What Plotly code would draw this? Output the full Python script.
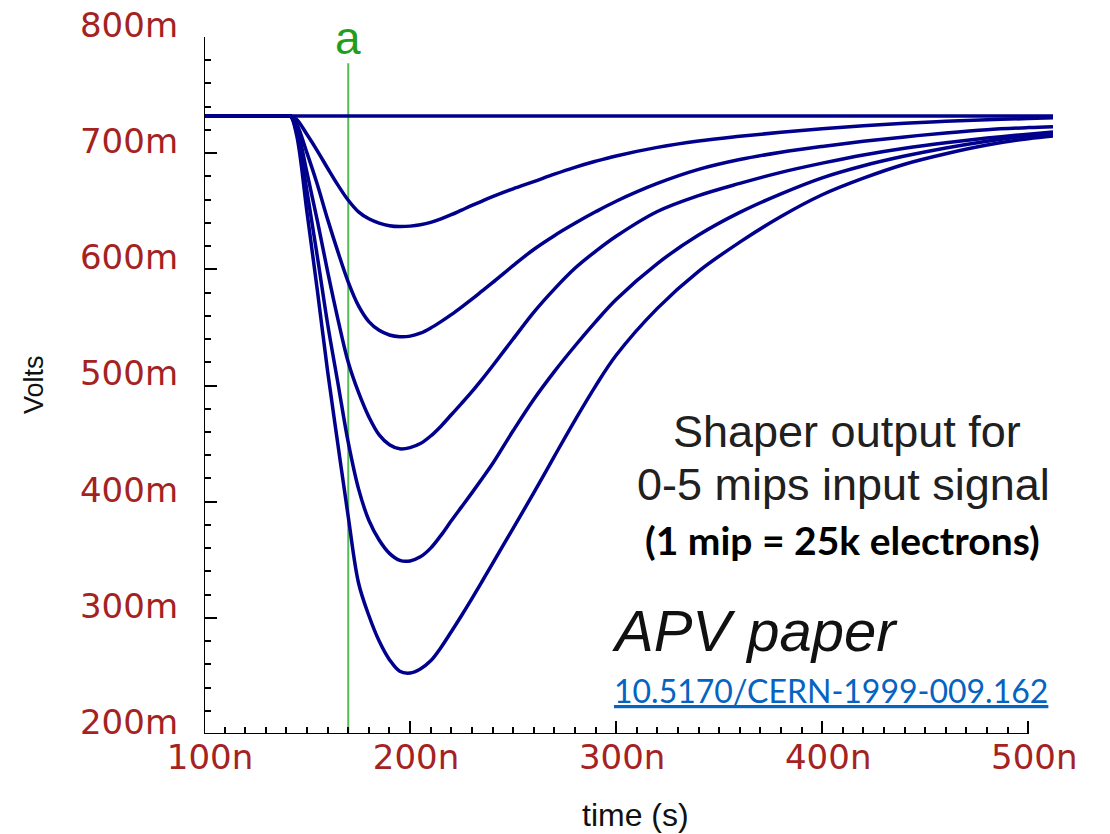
import plotly.graph_objects as go

# ---- data: shaper output (mV) vs time (ns) for 0..5 mip input charge ----
time_ns = [100, 110, 120, 130, 135, 140, 142, 145, 150, 155, 160, 165, 170, 175, 180, 185,
           190, 195, 200, 205, 210, 215, 220, 225, 230, 235, 240, 250, 260, 270, 280,
           290, 300, 320, 340, 360, 380, 400, 420, 440, 460, 480, 500, 512]

mip0_mv = [732, 732, 732, 732, 732, 732, 732, 732, 732, 732, 732, 732, 732, 732, 732, 732,
           732, 732, 732, 732, 732, 732, 732, 732, 732, 732, 732, 732, 732, 732, 732,
           732, 732, 732, 732, 732, 732, 732, 732, 732, 732, 732, 732, 732]
mip1_mv = [732, 732, 732, 732, 732, 732, 732, 729, 716, 702, 687, 672.5, 659.5, 649.5, 643.5,
           639.8, 637.6, 636.8, 637.2, 638.4, 640.4, 643.4, 647, 651, 655, 658.8, 662.5,
           669.3, 675.5, 681.9, 687.8, 693, 697.6, 705, 710.5, 714.5, 718, 721, 723.6,
           725.7, 727.4, 728.8, 729.8, 730.4]
mip2_mv = [732, 732, 732, 732, 732, 732, 732, 725, 700, 673, 643, 615, 589, 568.5, 555, 547.5,
           543.5, 542, 542.5, 545, 549.5, 555, 561, 567.5, 574.3, 581.4, 588.5, 603.2,
           617.1, 629, 639.6, 649.5, 658.6, 673.9, 686, 694.5, 700.8, 705.8, 710.2, 714,
           717.4, 720.2, 722.0, 722.8]
mip3_mv = [732, 732, 732, 732, 732, 732, 732, 722, 683, 642, 598, 557, 520, 494, 473, 457.5,
           449, 445.5, 446.5, 450, 456.5, 465, 474.8, 484.6, 494.7, 505.5, 516.8, 540,
           563.0, 583, 600.9, 615.5, 628.5, 649.8, 663.5, 674.0, 683.5, 691.4, 698.5,
           704.3, 709.0, 713.0, 716.4, 718.2]
mip4_mv = [732, 732, 732, 732, 732, 732, 732, 718, 667, 611, 553, 502, 451, 411, 384, 367,
           355.5, 349.5, 349, 352.5, 360, 371, 383.5, 395.5, 407.6, 420, 432.6, 461,
           488, 512, 534, 554.8, 574.1, 605.0, 629.5, 649.0, 665.0, 678.8, 689.2, 697.5,
           704.5, 710.3, 715.0, 717.0]
mip5_mv = [732, 732, 732, 732, 732, 732, 732, 715, 649, 582, 512, 449, 387, 330, 302, 280,
           264, 254, 252.5, 256, 263, 274.5, 288, 302, 316.5, 331.5, 346.7, 377, 407.5,
           439, 470, 499.5, 526, 566.4, 598.3, 623.4, 645.5, 664.2, 678.5, 690.5, 699.5,
           707, 712.5, 714.8]

series_mv = [mip0_mv, mip1_mv, mip2_mv, mip3_mv, mip4_mv, mip5_mv]

x_major = [100, 200, 300, 400, 500]
x_labels = ["100n", "200n", "300n", "400n", "500n"]
y_major = [200, 300, 400, 500, 600, 700, 800]
y_labels = ["200m", "300m", "400m", "500m", "600m", "700m", "800m"]

cursor_ns = 170          # marker "a"
cursor_label = "a"

# ---- styling ----
CURVE = "#00008c"
LABEL = "#a52222"
GREEN_LINE = "#55bb55"
GREEN_TEXT = "#1f9e1f"
TICKFONT = "DejaVu Sans"
SANS = "Liberation Sans"

W, H = 1110, 834
ML, MR, MT, MB = 204, 57, 37, 100
PW, PH = W - ML - MR, H - MT - MB


def px_x(p):
    return (p - ML) / PW


def px_y(p):
    return (H - MB - p) / PH


fig = go.Figure()
for vals in series_mv:
    fig.add_trace(go.Scatter(
        x=time_ns, y=vals, mode="lines",
        line=dict(color=CURVE, width=3.5, shape="spline", smoothing=1.0),
        hoverinfo="skip", showlegend=False))

x_minor = [v for v in range(110, 500, 10) if v % 100]
y_minor = [v for v in range(220, 800, 20) if v % 100]

fig.update_xaxes(
    range=[100, 512], showgrid=False, zeroline=False, showline=False,
    automargin=False,
    tickmode="array", tickvals=x_major, ticktext=x_labels,
    ticks="inside", ticklen=13, tickwidth=2, tickcolor="black",
    tickfont=dict(family=TICKFONT, size=34, color=LABEL),
    ticklabelshift=6, ticklabelstandoff=0,
    minor=dict(tickmode="array", tickvals=x_minor, ticks="inside",
               ticklen=7, tickwidth=2, tickcolor="black", showgrid=False),
)
fig.update_yaxes(
    range=[200, 800], showgrid=False, zeroline=False, showline=False,
    automargin=False,
    tickmode="array", tickvals=y_major, ticktext=y_labels,
    ticks="inside", ticklen=13, tickwidth=2, tickcolor="black",
    tickfont=dict(family=TICKFONT, size=34, color=LABEL),
    ticklabelshift=-12, ticklabelstandoff=25,
    minor=dict(tickmode="array", tickvals=y_minor, ticks="inside",
               ticklen=7, tickwidth=2, tickcolor="black", showgrid=False),
)

shapes = [
    # axis lines
    dict(type="line", xref="x", yref="y", x0=100, x1=500, y0=200, y1=200,
         line=dict(color="black", width=2)),
    dict(type="line", xref="x", yref="y", x0=100, x1=100, y0=200, y1=800,
         line=dict(color="black", width=2)),
    # cursor line
    dict(type="line", xref="x", yref="y", x0=cursor_ns, x1=cursor_ns, y0=196.5, y1=777.5,
         line=dict(color=GREEN_LINE, width=2), layer="below"),
]

annotations = [
    dict(text=cursor_label, xref="x", yref="paper", x=cursor_ns, y=px_y(38),
         showarrow=False, xanchor="center", yanchor="middle",
         font=dict(family=SANS, size=46, color=GREEN_TEXT)),
    dict(text="Volts", xref="paper", yref="paper", x=px_x(34), y=px_y(385),
         showarrow=False, textangle=-90, xanchor="center", yanchor="middle",
         font=dict(family=SANS, size=27, color="#111111")),
    dict(text="time (s)", xref="paper", yref="paper", x=px_x(635), y=px_y(815),
         showarrow=False, xanchor="center", yanchor="middle",
         font=dict(family=SANS, size=32, color="#111111")),
    dict(text="Shaper output for", xref="paper", yref="paper", x=px_x(847), y=px_y(431),
         showarrow=False, xanchor="center", yanchor="middle",
         font=dict(family=SANS, size=45, color="#202020")),
    dict(text="0-5 mips input signal", xref="paper", yref="paper", x=px_x(843), y=px_y(484),
         showarrow=False, xanchor="center", yanchor="middle",
         font=dict(family=SANS, size=45, color="#202020")),
    dict(text="<b>(1 mip = 25k electrons)</b>", xref="paper", yref="paper",
         x=px_x(842), y=px_y(540), showarrow=False, xanchor="center", yanchor="middle",
         font=dict(family="Lato", size=39, color="black")),
    dict(text="<i>APV paper</i>", xref="paper", yref="paper", x=px_x(610), y=px_y(630),
         showarrow=False, xanchor="left", yanchor="middle",
         font=dict(family=SANS, size=58, color="#111111")),
    dict(text="<u>10.5170/CERN-1999-009.162</u>", xref="paper", yref="paper",
         x=px_x(612), y=px_y(690), showarrow=False, xanchor="left", yanchor="middle",
         font=dict(family="Lato", size=32, color="#0563c1")),
]

fig.update_layout(
    width=W, height=H,
    margin=dict(l=ML, r=MR, t=MT, b=MB, pad=0, autoexpand=False),
    paper_bgcolor="white", plot_bgcolor="white",
    shapes=shapes, annotations=annotations,
    showlegend=False,
)

fig.write_html("out.html")
